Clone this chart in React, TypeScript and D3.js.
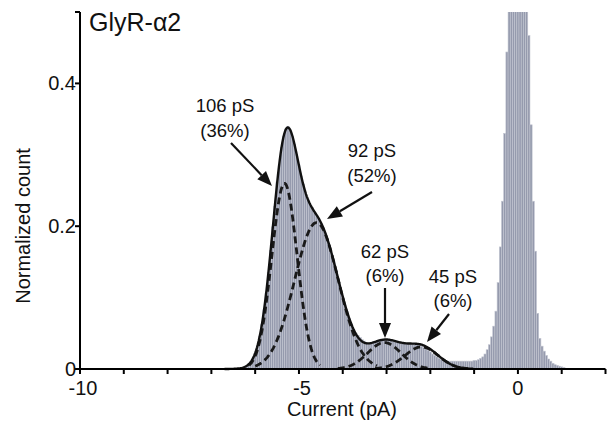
import React from 'react';
import * as d3 from 'd3';

// Histogram: bins of 0.05 pA starting at -6.5 pA
const binStart = -6.5;
const binWidth = 0.05;
const counts = [
  0, 0, 0.001, 0.001, 0.002, 0.003, 0.004, 0.007, 0.010, 0.015,
  0.022, 0.032, 0.046, 0.062, 0.083, 0.106, 0.135, 0.166, 0.199, 0.228,
  0.262, 0.286, 0.310, 0.326, 0.336, 0.340, 0.334, 0.326, 0.315, 0.298,
  0.286, 0.270, 0.259, 0.246, 0.239, 0.230, 0.226, 0.219, 0.215, 0.211,
  0.204, 0.198, 0.190, 0.182, 0.172, 0.160, 0.150, 0.137, 0.125, 0.112,
  0.102, 0.090, 0.081, 0.071, 0.063, 0.056, 0.050, 0.047, 0.044, 0.041,
  0.039, 0.037, 0.036, 0.037, 0.038, 0.038, 0.040, 0.041, 0.041, 0.042,
  0.041, 0.041, 0.040, 0.039, 0.039, 0.038, 0.037, 0.036, 0.036, 0.036,
  0.035, 0.035, 0.035, 0.034, 0.034, 0.033, 0.032, 0.030, 0.028, 0.026,
  0.024, 0.021, 0.019, 0.017, 0.015, 0.013, 0.012, 0.012, 0.011, 0.011,
  0.011, 0.011, 0.011, 0.011, 0.011, 0.011, 0.011, 0.011, 0.011, 0.011,
  0.012, 0.012, 0.013, 0.015, 0.017, 0.021, 0.027, 0.034, 0.045, 0.060,
  0.081, 0.121, 0.171, 0.235, 0.330, 0.444, 0.56, 0.68, 0.80, 0.88,
  0.92, 0.90, 0.82, 0.72, 0.60, 0.467, 0.342, 0.235, 0.165, 0.078,
  0.043, 0.032, 0.025, 0.019, 0.014, 0.011, 0.008, 0.006, 0.005, 0.004,
  0.003, 0.002, 0.001, 0.001, 0, 0, 0, 0, 0, 0,
  0,
];

// Gaussian fit components
const componentLabels = ['106 pS', '92 pS', '62 pS', '45 pS'];
const componentPercents = ['(36%)', '(52%)', '(6%)', '(6%)'];
const componentMeans = [-5.33, -4.6, -3.05, -2.2];
const componentAmps = [0.26, 0.205, 0.037, 0.031];
const componentSigmas = [0.29, 0.5, 0.38, 0.38];

const xTicks = [-10, -9, -8, -7, -6, -5, -4, -3, -2, -1, 0, 1, 2];
const xTickLabels = [-10, -5, 0];
const yTicks = [0, 0.2, 0.4, 0.5];
const yTickLabels = [0, 0.2, 0.4];

const FONT = 'Liberation Sans, Arial, Helvetica, sans-serif';

export default function App() {
  const W = 616;
  const H = 425;
  const x = d3.scaleLinear().domain([-10, 2]).range([80, 605.5]);
  const y = d3.scaleLinear().domain([0, 0.5]).range([369, 12]);

  const gauss = (v: number, i: number) =>
    componentAmps[i] * Math.exp(-((v - componentMeans[i]) ** 2) / (2 * componentSigmas[i] ** 2));

  const line = d3
    .line<[number, number]>()
    .x((d) => x(d[0]))
    .y((d) => y(d[1]))
    .curve(d3.curveLinear);

  const sumXs = d3.range(-6.7, -1.0, 0.02);
  const sumPath = line(sumXs.map((v) => [v, componentMeans.reduce((s, _m, i) => s + gauss(v, i), 0)]));

  const compPaths = componentMeans.map((m, i) => {
    const s = componentSigmas[i];
    const xs = d3.range(m - 2.8 * s, m + 2.8 * s, 0.02);
    return line(xs.map((v) => [v, gauss(v, i)]));
  });

  const bw = x(binWidth) - x(0);

  // annotation layout
  const annots = [
    { tx: 225, ty1: 112, ty2: 137, ax1: 231, ay1: 143, ax2: 272, ay2: 186 },
    { tx: 372, ty1: 157, ty2: 182, ax1: 372, ay1: 192, ax2: 327, ay2: 219 },
    { tx: 385, ty1: 258, ty2: 282, ax1: 385, ay1: 288, ax2: 385, ay2: 338 },
    { tx: 453, ty1: 283, ty2: 307, ax1: 449, ay1: 314, ax2: 427, ay2: 342 },
  ];

  const arrowHead = (x1: number, y1: number, x2: number, y2: number) => {
    const ang = Math.atan2(y2 - y1, x2 - x1);
    const L = 15;
    const Wd = 6;
    const bx = x2 - L * Math.cos(ang);
    const by = y2 - L * Math.sin(ang);
    const px = -Math.sin(ang) * Wd;
    const py = Math.cos(ang) * Wd;
    return {
      pts: `${x2},${y2} ${bx + px},${by + py} ${bx - px},${by - py}`,
      bx,
      by,
    };
  };

  return (
    <svg
      width={W}
      height={H}
      style={{ position: 'absolute', left: 0, top: 0, background: '#fff' }}
      fontFamily={FONT}
    >
      <defs>
        <clipPath id="plotClip">
          <rect x={80} y={12} width={530} height={357} />
        </clipPath>
      </defs>

      <g clipPath="url(#plotClip)">
        {counts.map((c, i) => {
          const center = binStart + i * binWidth;
          const x0 = x(center - binWidth / 2);
          if (c <= 0) return null;
          return (
            <rect
              key={i}
              x={x0}
              y={y(c)}
              width={bw}
              height={y(0) - y(c)}
              fill="#959aad"
              stroke="#c4c7d2"
              strokeWidth={0.6}
            />
          );
        })}
      </g>

      {compPaths.map((p, i) => (
        <path
          key={i}
          d={p || ''}
          fill="none"
          stroke="#1a1a1a"
          strokeWidth={2.8}
          strokeDasharray="7,4"
        />
      ))}
      <path d={sumPath || ''} fill="none" stroke="#111" strokeWidth={2.4} />

      {/* axes */}
      <line x1={x(-10)} x2={x(2)} y1={y(0)} y2={y(0)} stroke="#000" strokeWidth={2} />
      <line x1={x(-10)} x2={x(-10)} y1={y(0)} y2={y(0.5)} stroke="#000" strokeWidth={2} />
      {xTicks.map((t) => (
        <line key={t} x1={x(t)} x2={x(t)} y1={y(0)} y2={y(0) + 5} stroke="#000" strokeWidth={2} />
      ))}
      {xTickLabels.map((t) => (
        <text key={t} x={x(t) + (t < 0 ? 3 : 0)} y={395} textAnchor="middle" fontSize={20} fill="#111">
          {t}
        </text>
      ))}
      {yTicks.map((t) => (
        <line key={t} x1={x(-10) - 5} x2={x(-10)} y1={y(t)} y2={y(t)} stroke="#000" strokeWidth={2} />
      ))}
      {yTickLabels.map((t) => (
        <text key={t} x={76} y={y(t) + 7} textAnchor="end" fontSize={20} fill="#111">
          {t}
        </text>
      ))}

      <text x={342} y={416} textAnchor="middle" fontSize={20} fill="#111">
        Current (pA)
      </text>
      <text
        transform={`translate(30, 226) rotate(-90)`}
        textAnchor="middle"
        fontSize={20}
        fill="#111"
      >
        Normalized count
      </text>

      <text x={89} y={31} fontSize={25} fill="#111">
        GlyR-α2
      </text>

      {annots.map((a, i) => {
        const h = arrowHead(a.ax1, a.ay1, a.ax2, a.ay2);
        return (
          <g key={i}>
            <text x={a.tx} y={a.ty1} textAnchor="middle" fontSize={18.5} fill="#111">
              {componentLabels[i]}
            </text>
            <text x={a.tx} y={a.ty2} textAnchor="middle" fontSize={18.5} fill="#111">
              {componentPercents[i]}
            </text>
            <line x1={a.ax1} y1={a.ay1} x2={h.bx} y2={h.by} stroke="#111" strokeWidth={2.2} />
            <polygon points={h.pts} fill="#111" />
          </g>
        );
      })}
    </svg>
  );
}
